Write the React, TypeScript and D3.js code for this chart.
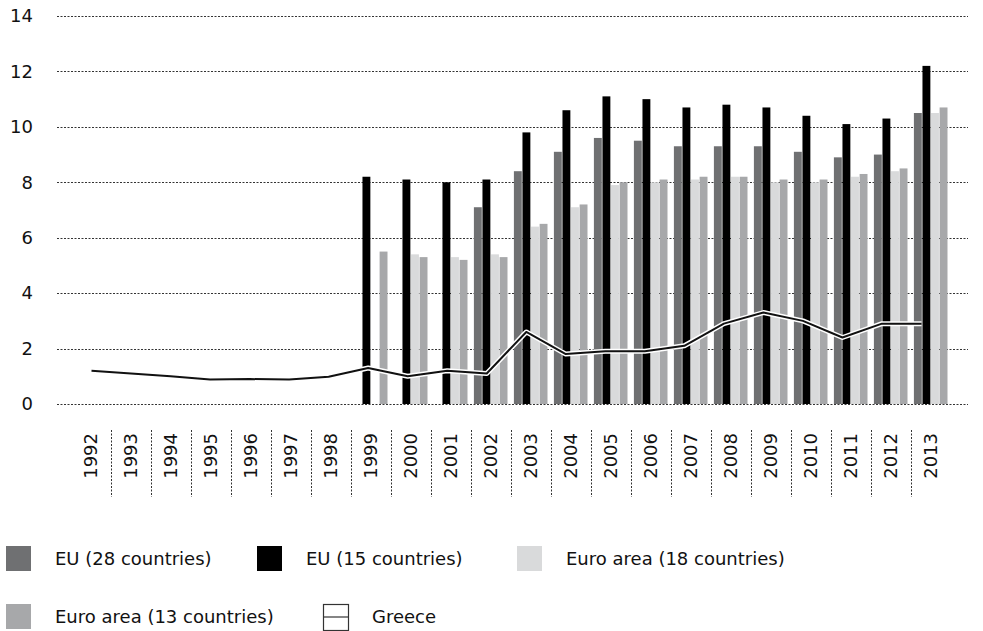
import { useMemo } from "react";
import * as d3 from "d3";

const WIDTH = 983;
const HEIGHT = 631;
const FONT = "'DejaVu Sans', Verdana, sans-serif";

const years = [
  "1992", "1993", "1994", "1995", "1996", "1997", "1998", "1999", "2000", "2001", "2002",
  "2003", "2004", "2005", "2006", "2007", "2008", "2009", "2010", "2011", "2012", "2013",
];

// values per year, null = no data
const eu28 = [null, null, null, null, null, null, null, null, null, null, 7.1,
  8.4, 9.1, 9.6, 9.5, 9.3, 9.3, 9.3, 9.1, 8.9, 9.0, 10.5];
const eu15 = [null, null, null, null, null, null, null, 8.2, 8.1, 8.0, 8.1,
  9.8, 10.6, 11.1, 11.0, 10.7, 10.8, 10.7, 10.4, 10.1, 10.3, 12.2];
const ea18 = [null, null, null, null, null, null, null, null, 5.4, 5.3, 5.4,
  6.4, 7.1, 7.9, 8.0, 8.1, 8.2, 8.0, 8.0, 8.2, 8.4, 10.5];
const ea13 = [null, null, null, null, null, null, null, 5.5, 5.3, 5.2, 5.3,
  6.5, 7.2, 8.0, 8.1, 8.2, 8.2, 8.1, 8.1, 8.3, 8.5, 10.7];
const greece = [1.2, 1.1, 1.0, 0.88, 0.9, 0.88, 0.98, 1.3, 1.0, 1.2, 1.1,
  2.6, 1.8, 1.9, 1.9, 2.1, 2.9, 3.3, 3.0, 2.4, 2.9, 2.9];

const yTicks = [0, 2, 4, 6, 8, 10, 12, 14];

const barSeries = [
  { key: "EU (28 countries)", values: eu28, color: "#6f7072" },
  { key: "EU (15 countries)", values: eu15, color: "#000000" },
  { key: "Euro area (18 countries)", values: ea18, color: "#d9dadb" },
  { key: "Euro area (13 countries)", values: ea13, color: "#a7a8aa" },
];

const PLOT = { left: 57, right: 968, top: 16, bottom: 404 };

export default function App() {
  const x = useMemo(
    () => d3.scaleBand<string>().domain(years).range([70.7, 950.7]),
    []
  );
  const step = x.step();
  const inner = useMemo(
    () =>
      d3
        .scaleBand<string>()
        .domain(barSeries.map((s) => s.key))
        .range([step * 0.08, step * 0.92])
        .paddingInner(0.08),
    [step]
  );
  // the Greece line sits on a slightly narrower point scale than the bars
  const xLine = useMemo(
    () => d3.scalePoint<string>().domain(years).range([91.5, 921.5]),
    []
  );
  const y = useMemo(
    () => d3.scaleLinear().domain([0, 14]).range([PLOT.bottom, PLOT.top]),
    []
  );

  const lineGen = d3
    .line<number>()
    .x((_, i) => xLine(years[i])!)
    .y((d) => y(d));
  const greecePath = lineGen(greece) || "";

  const legendRow1 = 546;
  const legendRow2 = 604;
  const legendItems = [
    { ...barSeries[0], lx: 6, ly: legendRow1 },
    { ...barSeries[1], lx: 257, ly: legendRow1 },
    { ...barSeries[2], lx: 517, ly: legendRow1 },
    { ...barSeries[3], lx: 6, ly: legendRow2 },
  ];

  return (
    <svg
      width={WIDTH}
      height={HEIGHT}
      style={{ position: "absolute", left: 0, top: 0, background: "#fff" }}
      fontFamily={FONT}
    >
      {/* horizontal grid */}
      {yTicks.map((t) => (
        <g key={t}>
          <line
            x1={PLOT.left}
            x2={PLOT.right}
            y1={Math.round(y(t)) + 0.5}
            y2={Math.round(y(t)) + 0.5}
            stroke="#333"
            strokeWidth={1}
            strokeDasharray="2,1.5"
          />
          <text
            x={33}
            y={y(t)}
            dy="0.35em"
            textAnchor="end"
            fontSize={18}
            fill="#111"
          >
            {t}
          </text>
        </g>
      ))}

      {/* bars */}
      {years.map((yr, i) => (
        <g key={yr} transform={`translate(${x(yr)},0)`}>
          {barSeries.map((s) => {
            const v = s.values[i];
            if (v == null) return null;
            return (
              <rect
                key={s.key}
                x={inner(s.key)}
                y={y(v)}
                width={inner.bandwidth()}
                height={y(0) - y(v)}
                fill={s.color}
              />
            );
          })}
        </g>
      ))}

      {/* Greece line with white halo */}
      <path d={greecePath} fill="none" stroke="#fff" strokeWidth={5} strokeLinejoin="round" />
      <path d={greecePath} fill="none" stroke="#111" strokeWidth={2} strokeLinejoin="round" />

      {/* category labels and separators */}
      {years.map((yr, i) => {
        const cx = x(yr)! + x.bandwidth() / 2;
        return (
          <g key={yr}>
            {i > 0 && (
              <line
                x1={Math.round(x(yr)!) + 0.5}
                x2={Math.round(x(yr)!) + 0.5}
                y1={430}
                y2={497}
                stroke="#333"
                strokeDasharray="2,1.5"
              />
            )}
            <text
              transform={`translate(${cx},433) rotate(-90)`}
              dy="0.35em"
              textAnchor="end"
              fontSize={18}
              fill="#111"
            >
              {yr}
            </text>
          </g>
        );
      })}

      {/* legend */}
      {legendItems.map((it) => (
        <g key={it.key}>
          <rect x={it.lx} y={it.ly} width={25} height={25} fill={it.color} />
          <text x={it.lx + 49} y={it.ly + 13} dy="0.35em" fontSize={18} fill="#111">
            {it.key}
          </text>
        </g>
      ))}
      <g>
        <rect x={323.5} y={legendRow2 + 0.5} width={25} height={26} fill="#fff" stroke="#333" strokeWidth={1.2} />
        <line x1={323.5} x2={348.5} y1={legendRow2 + 13} y2={legendRow2 + 13} stroke="#333" strokeWidth={1.2} />
        <text x={372} y={legendRow2 + 13} dy="0.35em" fontSize={18} fill="#111">
          Greece
        </text>
      </g>
    </svg>
  );
}
